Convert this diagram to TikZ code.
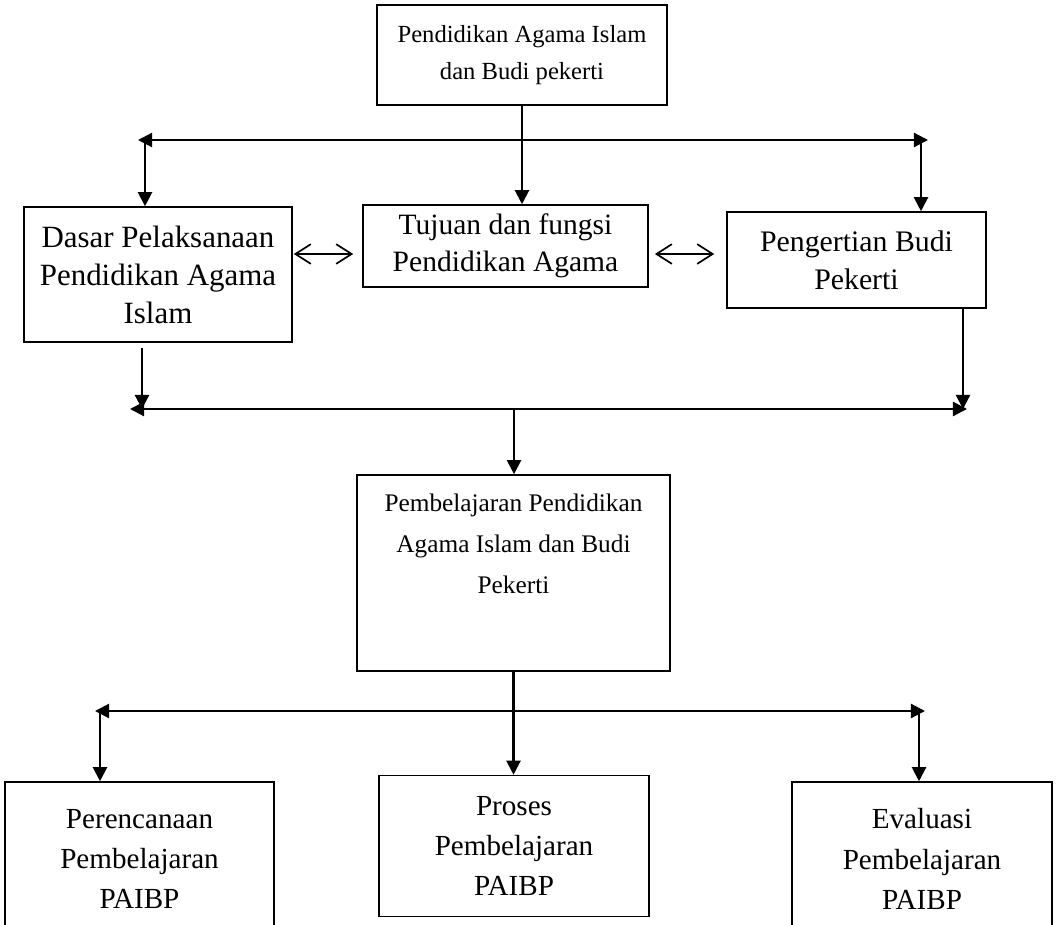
\documentclass[tikz,border=0pt]{standalone}
\usepackage{fontspec}
\setmainfont{Liberation Serif}
\usetikzlibrary{arrows.meta}
\usetikzlibrary{positioning}
\tikzset{box/.style = {draw, line width=1.1pt, align=center, inner sep=0pt,
                       font=\fontsize{17.5}{26.5}\selectfont},
         midbox/.style = {box, font=\fontsize{22}{27}\selectfont},
         bigbox/.style = {box, font=\fontsize{20.7}{28.5}\selectfont},
         link/.style = {line width=1.5pt},
         arr/.style = {link, -{Triangle[length=10pt, width=10pt]}},
         arrs/.style = {link, {Triangle[length=10pt, width=10pt]}-{Triangle[length=10pt, width=10pt]}},
         dbl/.style = {line width=1.2pt, {Straight Barb[length=11pt, width=14pt]}-{Straight Barb[length=11pt, width=14pt]}}}

\begin{document}
\begin{tikzpicture}[x=0.025cm, y=-0.025cm]
    \useasboundingbox (0, 0) rectangle (1057, 925);

    % boxes
    \node [box, minimum width=7.25cm, minimum height=2.5cm] (pai) at (522, 55)
      {Pendidikan Agama Islam\\dan Budi pekerti};
    \node [midbox, minimum width=6.7cm, minimum height=3.375cm] (dasar) at (158, 274.5)
      {Dasar Pelaksanaan\\Pendidikan Agama\\Islam};
    \node [midbox, font=\fontsize{21}{26.3}\selectfont, minimum width=7.125cm, minimum height=2.05cm] (tujuan) at (505.5, 246)
      {Tujuan dan fungsi\\Pendidikan Agama};
    \node [midbox, font=\fontsize{21.2}{27}\selectfont, minimum width=6.475cm, minimum height=2.4cm] (budi) at (856.5, 260)
      {Pengertian Budi\\Pekerti};
    \node [box, minimum width=7.825cm, minimum height=4.9cm] (pembelajaran) at (513.5, 573) {};
    \node [box, draw=none, font=\fontsize{18}{29}\selectfont, below=0.48cm of pembelajaran.north, anchor=north]
      (pembelajaran text) {Pembelajaran Pendidikan\\Agama Islam dan Budi\\Pekerti};
    \node [bigbox, minimum width=6.725cm, minimum height=3.85cm] (rencana) at (139.5, 859)
      {Perencanaan\\Pembelajaran\\PAIBP};
    \node [bigbox, minimum width=6.75cm, minimum height=3.525cm] (proses) at (514, 846)
      {Proses\\Pembelajaran\\PAIBP};
    \node [bigbox, minimum width=6.5cm, minimum height=3.85cm] (evaluasi) at (922, 859)
      {Evaluasi\\Pembelajaran\\PAIBP};

    % upper branch
    \coordinate (ul) at (138, 140);
    \coordinate (ur) at (928, 140);
    \coordinate (uld) at (145, 140);
    \coordinate (urd) at (921, 140);
    \draw [arrs] (ul) -- (ur);
    \draw [arr] (pai.south) -- (pai.south |- tujuan.north);
    \draw [arr] (uld) -- (uld |- dasar.north);
    \draw [arr] (urd) -- (urd |- budi.north);

    % double arrows
    \coordinate (mid) at (0, 254);
    \draw [dbl, shorten <=0.7pt, shorten >=6.4pt] (dasar.east |- mid) -- (tujuan.west |- mid);
    \draw [dbl, shorten <=4.3pt, shorten >=8.5pt] (tujuan.east |- mid) -- (budi.west |- mid);

    % lower branch
    \coordinate (ml) at (130, 409);
    \coordinate (mr) at (967, 409);
    \coordinate (mld) at (142, 409);
    \coordinate (mrd) at (963, 409);
    \coordinate (mmid) at (514, 409);
    \draw [arrs] (ml) -- (mr);
    \draw [arr, shorten <=3.5pt] (mld |- dasar.south) -- (mld);
    \draw [arr] (mrd |- budi.south) -- (mrd);
    \draw [arr] (mmid) -- (mmid |- pembelajaran.north);

    % bottom branch
    \coordinate (bl) at (95, 711);
    \coordinate (br) at (925, 711);
    \coordinate (bld) at (100, 711);
    \coordinate (brd) at (919, 711);
    \draw [arr] (pembelajaran.south) -- (pembelajaran.south |- proses.north);
    \draw [arrs] (bl) -- (br);
    \draw [arr] (bld) -- (bld |- rencana.north);
    \draw [arr] (brd) -- (brd |- evaluasi.north);
\end{tikzpicture}
\end{document}
